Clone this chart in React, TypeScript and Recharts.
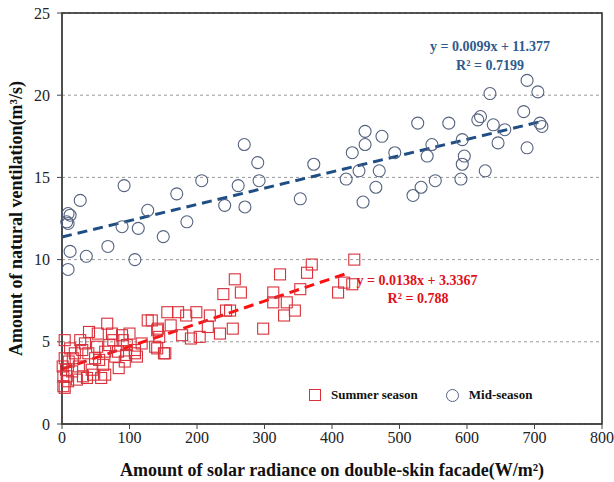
import { ScatterChart, Scatter, XAxis, YAxis, CartesianGrid, ReferenceLine, ReferenceArea, Legend, Customized } from 'recharts';

// solar radiance (W/m2) vs natural ventilation (m3/s)
const summerX = [433, 370, 363, 323, 418, 430, 409, 353, 313, 313, 333, 345, 329, 298, 256, 239, 265, 243, 249, 219, 199, 184, 172, 156, 133, 161, 216, 253, 178, 204, 234, 191, 144, 141, 151, 141, 127, 142, 138, 67, 53, 74, 89, 4, 27, 76, 90, 52, 34, 96, 108, 39, 64, 19, 79, 4, 16, 49, 93, 111, 61, 1, 84, 46, 31, 15, 7, 64, 22, 9, 37, 2, 4, 2, 44, 83, 108, 153, 10, 25, 55, 70, 100, 118, 30, 12, 6, 58, 40, 95];
const summerY = [10.0, 9.7, 9.2, 9.1, 8.6, 8.5, 8.0, 8.2, 8.0, 7.4, 7.4, 6.9, 6.6, 5.8, 8.8, 7.9, 8.0, 6.9, 6.9, 6.6, 6.8, 6.6, 6.8, 6.8, 6.3, 6.0, 5.9, 5.8, 5.4, 5.3, 5.5, 5.2, 5.3, 4.6, 4.3, 5.7, 6.3, 5.8, 4.7, 6.1, 5.5, 5.5, 5.4, 5.1, 5.1, 5.1, 5.1, 4.7, 4.9, 4.8, 4.5, 4.3, 4.4, 4.3, 4.1, 4.0, 4.0, 4.0, 3.8, 4.1, 3.6, 3.5, 3.4, 3.0, 2.9, 3.2, 2.9, 3.0, 2.7, 2.6, 2.8, 2.3, 2.2, 2.9, 3.3, 4.4, 4.3, 4.3, 3.8, 3.5, 3.9, 4.8, 5.5, 4.9, 4.5, 4.6, 3.3, 2.8, 5.6, 4.2];

const midX = [689, 705, 634, 684, 573, 527, 616, 620, 639, 656, 708, 711, 593, 646, 689, 596, 593, 627, 591, 449, 474, 449, 430, 493, 548, 541, 290, 373, 440, 470, 292, 421, 553, 465, 532, 520, 353, 446, 270, 207, 92, 261, 170, 27, 241, 271, 127, 9, 12, 7, 9, 185, 89, 113, 150, 68, 12, 36, 108, 9];
const midY = [20.9, 20.2, 20.1, 19.0, 18.3, 18.3, 18.5, 18.7, 18.2, 17.9, 18.3, 18.1, 17.3, 17.1, 16.8, 16.3, 15.8, 15.4, 14.9, 17.8, 17.5, 17.0, 16.5, 16.5, 17.0, 16.3, 15.9, 15.8, 15.4, 15.4, 14.8, 14.9, 14.8, 14.4, 14.4, 13.9, 13.7, 13.5, 17.0, 14.8, 14.5, 14.5, 14.0, 13.6, 13.3, 13.2, 13.0, 12.8, 12.7, 12.3, 12.2, 12.3, 12.0, 11.9, 11.4, 10.8, 10.5, 10.2, 10.0, 9.4];

// trend lines: [slope, intercept], x range
const summerFit = [0.0138, 3.3367];
const summerFitRange = [0, 427];
const midFit = [0.0099, 11.377];
const midFitRange = [0, 710];

const xTicks = [0, 100, 200, 300, 400, 500, 600, 700, 800];
const yTicks = [0, 5, 10, 15, 20, 25];

const summerData = summerX.map((x, i) => ({ x, y: summerY[i] }));
const midData = midX.map((x, i) => ({ x, y: midY[i] }));

const RED = '#D9303A';
const BLUE = '#55627F';
const serif = '"Liberation Serif", "DejaVu Serif", serif';

const Square = (props: any) => (
  <rect x={props.cx - 5.5} y={props.cy - 5.5} width={11} height={11} fill="none" stroke={RED} strokeWidth={1.1} />
);
const Ring = (props: any) => (
  <circle cx={props.cx} cy={props.cy} r={6} fill="none" stroke={BLUE} strokeWidth={1.1} />
);

const Equations = () => (
  <g fontFamily={serif} fontWeight="bold" fontSize={14}>
    <text x={490} y={51} textAnchor="middle" fill="#2F5A8C">y = 0.0099x + 11.377</text>
    <text x={490} y={70} textAnchor="middle" fill="#2F5A8C">R² = 0.7199</text>
    <text x={417} y={285} textAnchor="middle" fill="#E0101A">y = 0.0138x + 3.3367</text>
    <text x={418} y={303} textAnchor="middle" fill="#E0101A">R² = 0.788</text>
  </g>
);

const LegendBox = () => (
  <div style={{ display: 'flex', alignItems: 'center', fontFamily: serif, fontWeight: 'bold', fontSize: 13, color: '#111' }}>
    <svg width={12} height={12} style={{ marginRight: 10 }}>
      <rect x={0.5} y={0.5} width={11} height={11} fill="none" stroke={RED} />
    </svg>
    <span style={{ marginRight: 28 }}>Summer season</span>
    <svg width={13} height={13} style={{ marginRight: 10 }}>
      <circle cx={6.5} cy={6.5} r={6} fill="none" stroke={BLUE} />
    </svg>
    <span>Mid-season</span>
  </div>
);

export default function App() {
  return (
    <div style={{ position: 'absolute', left: 0, top: 0, width: 614, height: 482, background: '#fff' }}>
      <ScatterChart width={614} height={482} margin={{ top: 13, right: 12, bottom: 0, left: 0 }}>
        <CartesianGrid vertical={false} strokeDasharray="3 3" stroke="#9a9a9a" />
        <XAxis
          type="number"
          dataKey="x"
          domain={[0, 800]}
          ticks={xTicks}
          height={58}
          tickSize={5}
          tickMargin={3}
          stroke="#444"
          tick={{ fontSize: 16, fill: '#222', fontFamily: serif }}
          label={{ value: 'Amount of solar radiance on double-skin facade(W/m²)', position: 'insideBottom', offset: 6, style: { fontFamily: serif, fontWeight: 'bold', fontSize: 18, fill: '#111' } }}
        />
        <YAxis
          type="number"
          dataKey="y"
          domain={[0, 25]}
          ticks={yTicks}
          width={62}
          tickSize={5}
          tickMargin={7}
          stroke="#444"
          tick={{ fontSize: 16, fill: '#222', fontFamily: serif }}
          label={{ value: 'Amount of natural ventilation(m³/s)', angle: -90, position: 'insideLeft', offset: 16, style: { textAnchor: 'middle', fontFamily: serif, fontWeight: 'bold', fontSize: 18, fill: '#111' } }}
        />
        <ReferenceArea x1={0} x2={800} y1={0} y2={25} fill="none" stroke="#222" strokeWidth={1.5} />
        <Scatter name="Summer season" data={summerData} shape={Square} isAnimationActive={false} />
        <Scatter name="Mid-season" data={midData} shape={Ring} isAnimationActive={false} />
        <ReferenceLine
          segment={[
            { x: summerFitRange[0], y: summerFit[0] * summerFitRange[0] + summerFit[1] },
            { x: summerFitRange[1], y: summerFit[0] * summerFitRange[1] + summerFit[1] },
          ]}
          stroke="#FF1010"
          strokeWidth={3}
          strokeDasharray="10 6"
        />
        <ReferenceLine
          segment={[
            { x: midFitRange[0], y: midFit[0] * midFitRange[0] + midFit[1] },
            { x: midFitRange[1], y: midFit[0] * midFitRange[1] + midFit[1] },
          ]}
          stroke="#1F4E85"
          strokeWidth={3}
          strokeDasharray="10 6"
        />
        <Legend
          layout="horizontal"
          verticalAlign="middle"
          align="center"
          content={LegendBox}
          wrapperStyle={{ position: 'absolute', left: 309, top: 387, width: 260 }}
        />
        <Customized component={Equations} />
      </ScatterChart>
    </div>
  );
}
